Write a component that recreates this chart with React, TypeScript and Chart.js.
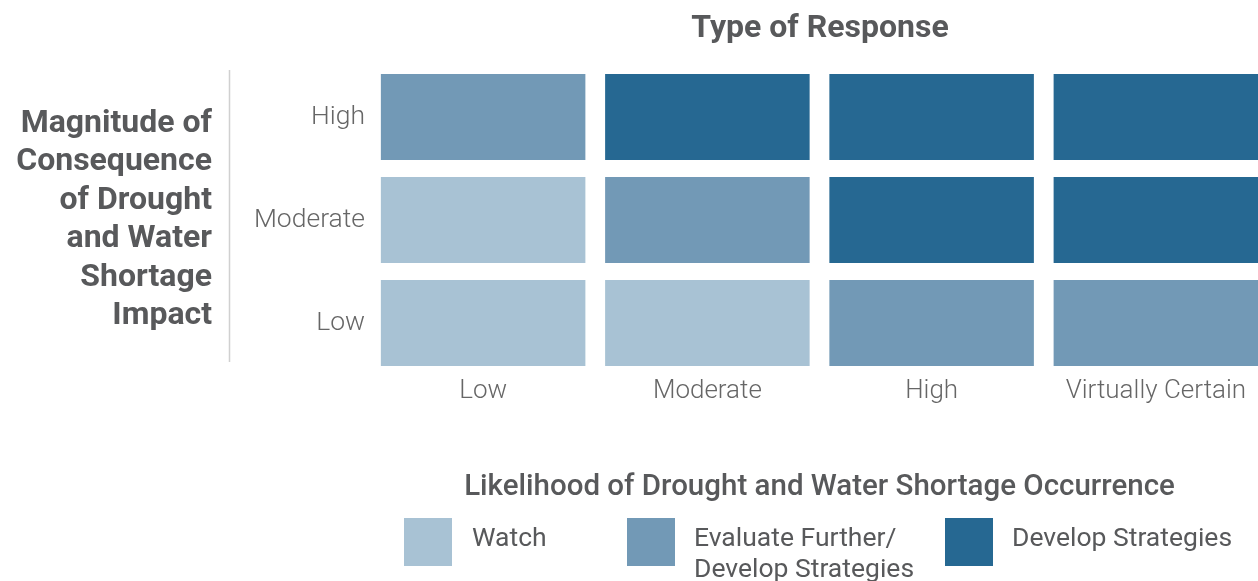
import React, { useEffect, useRef } from "react";
import { Chart, registerables } from "chart.js";

Chart.register(...registerables);

const likelihoodLabels = ["Low", "Moderate", "High", "Virtually Certain"];
const magnitudeLabels = ["Low", "Moderate", "High"]; // bottom to top
// response level per cell: 1 = Watch, 2 = Evaluate Further/Develop Strategies, 3 = Develop Strategies
const lowRow = [1, 1, 2, 2];
const moderateRow = [1, 2, 3, 3];
const highRow = [2, 3, 3, 3];
const responseLabels = ["Watch", ["Evaluate Further/", "Develop Strategies"], "Develop Strategies"];
const responseColors = ["#a8c2d4", "#7299b6", "#266892"];

const yTitleLines = ["Magnitude of", "Consequence", "of Drought", "and Water", "Shortage", "Impact"];
const chartTitle = "Type of Response";
const xTitle = "Likelihood of Drought and Water Shortage Occurrence";

const TEXT = "#58595b";
const TICK = "#666666";

const rows = [lowRow, moderateRow, highRow];
const CELL_GAP = 0.0825;

export default function App() {
  const ref = useRef<HTMLCanvasElement | null>(null);
  useEffect(() => {
    if (!ref.current) return;
    const datasets = rows.map((row, r) => ({
      label: magnitudeLabels[r],
      data: row.map(() => [r + CELL_GAP, r + 1 - CELL_GAP]),
      backgroundColor: row.map((lvl) => responseColors[lvl - 1]),
      borderWidth: 0,
      grouped: false,
      barPercentage: 1,
      categoryPercentage: 0.912,
    }));

    const overlay = {
      id: "overlay",
      afterDraw(chart: any) {
        const ctx = chart.ctx;
        ctx.save();
        // Title
        ctx.fillStyle = TEXT;
        ctx.font = "bold 32px Roboto";
        ctx.textAlign = "center";
        ctx.textBaseline = "middle";
        ctx.fillText(chartTitle, 820, 29);
        // y-axis title
        ctx.textAlign = "right";
        ctx.font = "bold 32px Roboto";
        yTitleLines.forEach((t, i) => {
          ctx.fillText(t, 212, 124 + i * 38.4);
        });
        // separator line
        ctx.strokeStyle = "#d0d0d0";
        ctx.lineWidth = 1.5;
        ctx.beginPath();
        ctx.moveTo(229.5, 70);
        ctx.lineTo(229.5, 362);
        ctx.stroke();
        // legend
        const items = [
          { x: 404, tx: 472 },
          { x: 627, tx: 694 },
          { x: 945, tx: 1012 },
        ];
        ctx.font = "26.5px Roboto";
        ctx.textAlign = "left";
        items.forEach((it, i) => {
          ctx.fillStyle = responseColors[i];
          ctx.fillRect(it.x, 518, 48, 48);
          ctx.fillStyle = TEXT;
          const lab = responseLabels[i];
          const lines = Array.isArray(lab) ? lab : [lab];
          lines.forEach((l, j) => ctx.fillText(l, it.tx, 539 + j * 31));
        });
        ctx.restore();
      },
    };

    const chart = new Chart(ref.current, {
      type: "bar",
      data: { labels: likelihoodLabels, datasets: datasets as any },
      options: {
        animation: false,
        responsive: false,
        layout: { padding: { left: 171, right: 12, top: 65.5, bottom: 0 } },
        plugins: { legend: { display: false }, tooltip: { enabled: false }, title: { display: false } },
        scales: {
          x: {
            grid: { display: false, drawTicks: false },
            border: { display: false },
            ticks: { font: { family: "Roboto", size: 26, weight: 300 }, color: TICK, padding: 1 },
            title: {
              display: true,
              text: xTitle,
              font: { family: "Roboto", size: 29.5, weight: 500 },
              color: TEXT,
              padding: { top: 0, bottom: 75.5 },
            },
            afterFit: (s: any) => {
              s.height = 206.5;
            },
          } as any,
          y: {
            min: 0,
            max: 3,
            grid: { display: false, drawTicks: false },
            border: { display: false },
            afterBuildTicks: (s: any) => {
              s.ticks = magnitudeLabels.map((_, i) => ({ value: i + 0.5 }));
            },
            ticks: {
              font: { family: "Roboto", size: 26.5, weight: 300 },
              color: TICK,
              padding: 6,
              callback: (v: any) => magnitudeLabels[Math.floor(Number(v))],
            },
            afterFit: (s: any) => {
              s.width = 200;
            },
          } as any,
        },
      },
      plugins: [overlay],
    });
    return () => chart.destroy();
  }, []);

  return (
    <div style={{ position: "fixed", left: 0, top: 0, width: 1258, height: 581, overflow: "hidden", background: "#fff" }}>
      <canvas ref={ref} width={1280} height={581} style={{ width: 1280, height: 581, display: "block" }} />
    </div>
  );
}
